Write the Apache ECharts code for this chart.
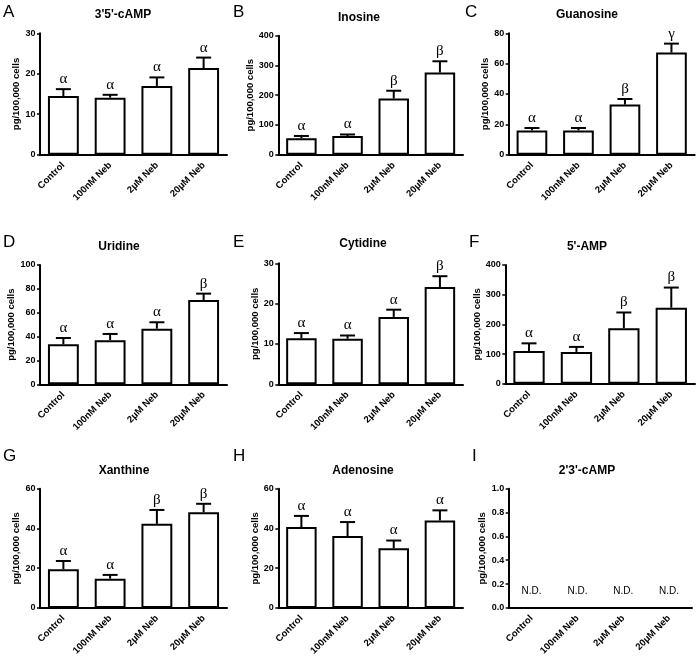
<!DOCTYPE html>
<html>
<head>
<meta charset="utf-8">
<script src="https://cdn.jsdelivr.net/npm/echarts@6/dist/echarts.min.js"></script>
<style>html,body{margin:0;padding:0;background:#fff}#c{width:697px;height:658px}</style>
</head>
<body>
<div id="c"></div>
<script>
// ---- data ----
const categories = ['Control', '100nM Neb', '2\u03bcM Neb', '20\u03bcM Neb'];
const titles = ["3'5'-cAMP", 'Inosine', 'Guanosine', 'Uridine', 'Cytidine', "5'-AMP", 'Xanthine', 'Adenosine', "2'3'-cAMP"];
const panelLetters = ['A', 'B', 'C', 'D', 'E', 'F', 'G', 'H', 'I'];
const yMax = [30, 400, 80, 100, 30, 400, 60, 60, 1];
const yInterval = [10, 100, 20, 20, 10, 100, 20, 20, 0.2];

const camp35Mean = [14.5, 14.1, 17.0, 21.4];
const camp35Sem = [1.7, 0.7, 2.1, 2.6];
const camp35Sig = ['\u03b1', '\u03b1', '\u03b1', '\u03b1'];

const inosineMean = [55, 63, 189, 276];
const inosineSem = [8, 5, 26, 38];
const inosineSig = ['\u03b1', '\u03b1', '\u03b2', '\u03b2'];

const guanosineMean = [16.0, 16.0, 33.0, 67.3];
const guanosineSem = [1.6, 1.6, 3.7, 5.9];
const guanosineSig = ['\u03b1', '\u03b1', '\u03b2', '\u03b3'];

const uridineMean = [33.5, 36.9, 46.6, 70.7];
const uridineSem = [5.3, 5.3, 5.4, 5.3];
const uridineSig = ['\u03b1', '\u03b1', '\u03b1', '\u03b2'];

const cytidineMean = [11.4, 11.3, 16.7, 24.1];
const cytidineSem = [1.3, 0.8, 1.8, 2.7];
const cytidineSig = ['\u03b1', '\u03b1', '\u03b1', '\u03b2'];

const amp5Mean = [110, 107, 187, 256];
const amp5Sem = [26, 17, 53, 68];
const amp5Sig = ['\u03b1', '\u03b1', '\u03b2', '\u03b2'];

const xanthineMean = [19.4, 14.7, 42.3, 48.1];
const xanthineSem = [4.2, 1.9, 7.0, 4.3];
const xanthineSig = ['\u03b1', '\u03b1', '\u03b2', '\u03b2'];

const adenosineMean = [40.7, 36.2, 30.0, 44.0];
const adenosineSem = [5.6, 7.0, 3.9, 5.1];
const adenosineSig = ['\u03b1', '\u03b1', '\u03b1', '\u03b1'];

const camp23Mean = [null, null, null, null];
const camp23Sem = [null, null, null, null];
const camp23Sig = ['N.D.', 'N.D.', 'N.D.', 'N.D.'];

const means = [camp35Mean, inosineMean, guanosineMean, uridineMean, cytidineMean, amp5Mean, xanthineMean, adenosineMean, camp23Mean];
const sems = [camp35Sem, inosineSem, guanosineSem, uridineSem, cytidineSem, amp5Sem, xanthineSem, adenosineSem, camp23Sem];
const sigs = [camp35Sig, inosineSig, guanosineSig, uridineSig, cytidineSig, amp5Sig, xanthineSig, adenosineSig, camp23Sig];

// ---- layout ----
const grids = [
  {left: 40, top: 33.3, width: 187, height: 121.4},
  {left: 278.3, top: 35.7, width: 184.7, height: 119},
  {left: 508.7, top: 33.3, width: 186, height: 121.4},
  {left: 40, top: 265, width: 187, height: 119.3},
  {left: 278.3, top: 263.3, width: 184.7, height: 121},
  {left: 505.3, top: 265, width: 189.7, height: 118.7},
  {left: 40, top: 488.7, width: 187, height: 121.3},
  {left: 278.3, top: 488.7, width: 184.7, height: 121.3},
  {left: 508.7, top: 488.7, width: 183.3, height: 121.3}
];
const nameGaps = [17, 20, 17, 18, 16, 19, 15, 16, 16];
const titlePos = [[123, 15], [359, 18], [587, 15], [119, 247], [363, 244], [587, 247], [124, 471], [363, 471], [587, 471]];
const letterPos = [[3, 12], [233, 12], [465, 12], [3, 242], [233, 242], [469, 242], [3, 456], [233, 456], [472, 456]];

const SANS = '"Liberation Sans", Arial, sans-serif';
const SERIF = '"Liberation Serif", "DejaVu Serif", serif';

const xAxes = [], yAxes = [], series = [], graphics = [];
for (let p = 0; p < 9; p++) {
  xAxes.push({
    type: 'category', gridIndex: p, data: categories,
    axisLine: {lineStyle: {color: '#000', width: 2}},
    axisTick: {alignWithLabel: true, length: 3, lineStyle: {color: '#000', width: 1.5}},
    axisLabel: {interval: 0, rotate: 45, margin: 9, color: '#000', fontFamily: SANS, fontWeight: 'bold', fontSize: 9.5}
  });
  yAxes.push({
    type: 'value', gridIndex: p, min: 0, max: yMax[p], interval: yInterval[p],
    name: 'pg/100,000 cells', nameLocation: 'middle', nameGap: nameGaps[p],
    nameTextStyle: {color: '#000', fontFamily: SANS, fontWeight: 'bold', fontSize: 9.5},
    axisLine: {show: true, lineStyle: {color: '#000', width: 2}},
    axisTick: {show: true, length: 3, lineStyle: {color: '#000', width: 1.5}},
    splitLine: {show: false},
    axisLabel: {margin: 4.5, color: '#000', fontFamily: SANS, fontWeight: 'bold', fontSize: 9,
      formatter: p === 8 ? (v => v.toFixed(1)) : (v => String(v))}
  });
  series.push({
    type: 'bar', xAxisIndex: p, yAxisIndex: p, data: means[p], barWidth: '66%',
    itemStyle: {color: '#fff', borderColor: '#000', borderWidth: 2},
    silent: true, animation: false
  });
  const pm = means[p], ps = sems[p], sg = sigs[p];
  series.push({
    type: 'custom', xAxisIndex: p, yAxisIndex: p, z: 5, animation: false, silent: true,
    data: categories.map((c, i) => [i, pm[i] == null ? 0 : pm[i], pm[i] == null ? 0 : pm[i] + ps[i]]),
    renderItem: function (params, api) {
      const i = params.dataIndex;
      const base = api.coord([api.value(0), api.value(1)]);
      const top = api.coord([api.value(0), api.value(2)]);
      if (pm[i] == null) {
        return {type: 'text', style: {text: sg[i], x: base[0], y: base[1] - 17, align: 'center', verticalAlign: 'middle',
          fill: '#000', font: '10px ' + SANS}};
      }
      const st = {stroke: '#000', lineWidth: 2};
      return {type: 'group', children: [
        {type: 'line', shape: {x1: base[0], y1: base[1], x2: base[0], y2: top[1]}, style: st},
        {type: 'line', shape: {x1: base[0] - 7.5, y1: top[1], x2: base[0] + 7.5, y2: top[1]}, style: st},
        {type: 'text', style: {text: sg[i], x: base[0], y: top[1] - 2.5, align: 'center', verticalAlign: 'bottom',
          fill: '#000', font: '15px ' + SERIF}}
      ]};
    }
  });
  graphics.push({type: 'text', x: titlePos[p][0], y: titlePos[p][1],
    style: {text: titles[p], align: 'center', verticalAlign: 'middle', fill: '#000', font: 'bold 12px ' + SANS}});
  graphics.push({type: 'text', x: letterPos[p][0], y: letterPos[p][1],
    style: {text: panelLetters[p], align: 'left', verticalAlign: 'middle', fill: '#000', font: '17px ' + SANS}});
}

const chart = echarts.init(document.getElementById('c'), null, {renderer: 'canvas'});
chart.setOption({
  backgroundColor: '#fff',
  animation: false,
  grid: grids,
  xAxis: xAxes,
  yAxis: yAxes,
  series: series,
  graphic: graphics
});
</script>
</body>
</html>
